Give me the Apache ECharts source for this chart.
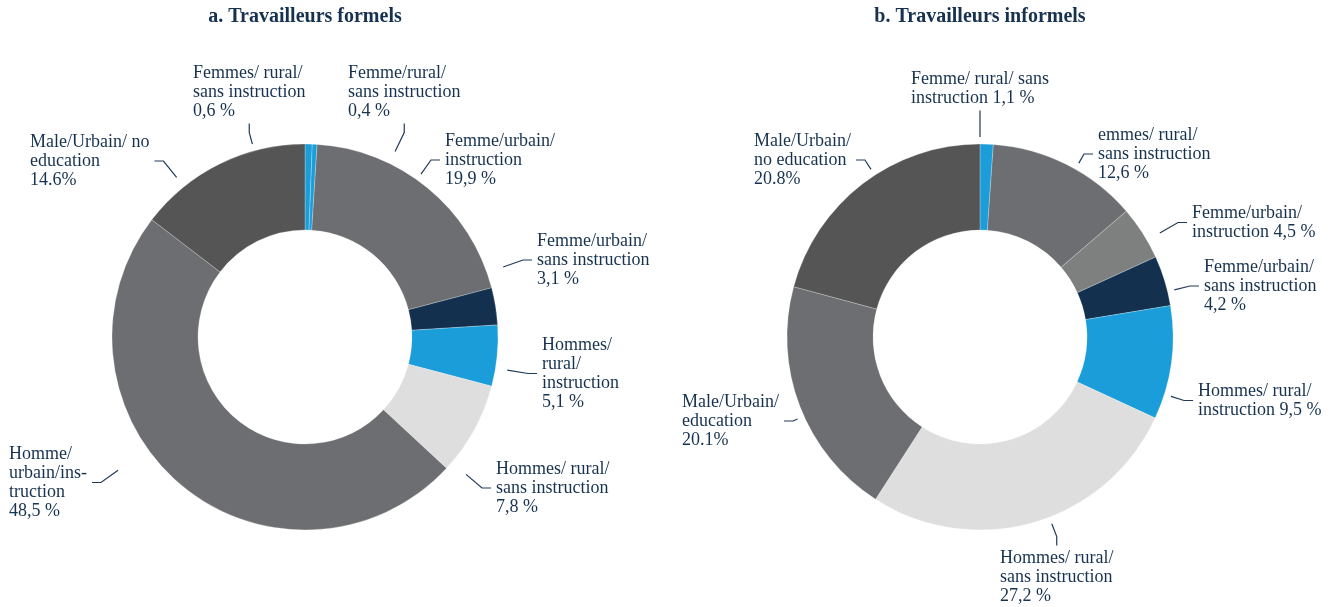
<!DOCTYPE html>
<html>
<head>
<meta charset="utf-8">
<script src="https://cdn.jsdelivr.net/npm/echarts@6/dist/echarts.min.js"></script>
<style>
  html, body { margin: 0; padding: 0; background: #fff; }
  #main { width: 1340px; height: 607px; }
</style>
</head>
<body>
<div id="main"></div>
<script>
// a. Travailleurs formels  ({fr} = valeur avec virgule, {en} = valeur avec point)
var formelLabels = [
    'Femmes/ rural/\nsans instruction\n{fr} %',
    'Femme/rural/\nsans instruction\n{fr} %',
    'Femme/urbain/\ninstruction\n{fr} %',
    'Femme/urbain/\nsans instruction\n{fr} %',
    'Hommes/\nrural/\ninstruction\n{fr} %',
    'Hommes/ rural/\nsans instruction\n{fr} %',
    'Homme/\nurbain/ins-\ntruction\n{fr} %',
    'Male/Urbain/ no\neducation\n{en}%'
];
var formelValues = [0.6, 0.4, 19.9, 3.1, 5.1, 7.8, 48.5, 14.6];

// b. Travailleurs informels
var informelLabels = [
    'Femme/ rural/ sans\ninstruction {fr} %',
    'emmes/ rural/\nsans instruction\n{fr} %',
    'Femme/urbain/\ninstruction {fr} %',
    'Femme/urbain/\nsans instruction\n{fr} %',
    'Hommes/ rural/\ninstruction {fr} %',
    'Hommes/ rural/\nsans instruction\n{fr} %',
    'Male/Urbain/\neducation\n{en}%',
    'Male/Urbain/\nno education\n{en}%'
];
var informelValues = [1.1, 12.6, 4.5, 4.2, 9.5, 27.2, 20.1, 20.8];

var formelColors = ['#1b9dd9', '#1b9dd9', '#6d6e71', '#13304f', '#1b9dd9', '#dedede', '#6d6e71', '#555556'];
var informelColors = ['#1b9dd9', '#6d6e71', '#7e8080', '#13304f', '#1b9dd9', '#dedede', '#6d6e71', '#555556'];

// où commence le texte de chaque étiquette : [gauche, milieu de la 1re ligne]
var formelLabelPos = [[193, 73], [348, 73], [445, 141], [537, 241], [542, 345], [496, 469], [9, 454], [30, 142]];
var informelLabelPos = [[911, 79], [1098, 135], [1192, 213], [1204, 267], [1198, 391], [1000, 558], [682, 402], [754, 141]];

var textColor = '#17324f';
var labelFont = 'Liberation Serif';
var lineH = 19;
var pad = [3, 5];
var rIn = 107, rOut = 193;

function fmt(tpl, v) {
    return tpl.replace('{fr}', v.toFixed(1).replace('.', ','))
              .replace('{en}', v.toFixed(1));
}

// trait de rappel court, détaché de l'anneau, vers le côté le plus proche de l'étiquette
function leader(center, x0, y0, w, h) {
    var L2 = 9, gap = 7, maxLen = 30;
    var cands = [
        [x0, y0 + h / 2, -1, 0], [x0 + w, y0 + h / 2, 1, 0],
        [x0 + w / 2, y0, 0, -1], [x0 + w / 2, y0 + h, 0, 1]
    ];
    var best = null, bestD = Infinity;
    cands.forEach(function (c) {
        var px = c[0] + c[2] * L2, py = c[1] + c[3] * L2;
        var d = Math.hypot(px - center[0], py - center[1]) - rOut;
        if (d < bestD) { bestD = d; best = {a: [c[0], c[1]], m: [px, py]}; }
    });
    var dx = best.m[0] - center[0], dy = best.m[1] - center[1];
    var len = Math.hypot(dx, dy);
    var s = [center[0] + dx / len * (rOut + gap), center[1] + dy / len * (rOut + gap)];
    var seg1 = Math.hypot(best.m[0] - s[0], best.m[1] - s[1]);
    if (len < rOut + gap) { return [best.m, best.a]; }
    var keep = Math.max(maxLen - L2, 8);
    if (seg1 > keep) {
        var t = (seg1 - keep) / seg1;
        s = [s[0] + (best.m[0] - s[0]) * t, s[1] + (best.m[1] - s[1]) * t];
    }
    return [s, best.m, best.a];
}

function donut(values, labels, colors, pos, center) {
    return {
        type: 'pie',
        center: center,
        radius: [rIn, rOut],
        startAngle: 90,
        avoidLabelOverlap: false,
        silent: true,
        emphasis: {disabled: true},
        itemStyle: {borderColor: 'rgba(255,255,255,0.5)', borderWidth: 0.5},
        label: {
            show: true,
            position: 'outside',
            fontFamily: labelFont,
            fontSize: 18,
            lineHeight: lineH,
            color: textColor,
            padding: pad,
            overflow: 'none',
            formatter: function (p) {
                return fmt(labels[p.dataIndex], values[p.dataIndex]);
            }
        },
        labelLine: {
            show: true,
            length: 8,
            length2: 10,
            lineStyle: {color: '#1f3a5a', width: 1.2}
        },
        labelLayout: function (p) {
            var xy = pos[p.dataIndex];
            var x = xy[0] - pad[1];
            var y = xy[1] - lineH / 2 - pad[0];
            return {
                x: x,
                y: y,
                align: 'left',
                verticalAlign: 'top',
                labelLinePoints: leader(center, x, y, p.labelRect.width, p.labelRect.height)
            };
        },
        data: values.map(function (v, i) {
            return {value: v, name: labels[i], itemStyle: {color: colors[i]}};
        })
    };
}

var myChart = echarts.init(document.getElementById('main'));
var option = {
    animation: false,
    backgroundColor: '#fff',
    title: [{
        text: 'a. Travailleurs formels',
        left: 305,
        top: 7,
        padding: 0,
        textAlign: 'center',
        textStyle: {fontFamily: labelFont, fontWeight: 'bold', fontSize: 20, color: textColor}
    }, {
        text: 'b. Travailleurs informels',
        left: 980,
        top: 7,
        padding: 0,
        textAlign: 'center',
        textStyle: {fontFamily: labelFont, fontWeight: 'bold', fontSize: 20, color: textColor}
    }],
    series: [
        donut(formelValues, formelLabels, formelColors, formelLabelPos, [305, 337]),
        donut(informelValues, informelLabels, informelColors, informelLabelPos, [980, 337])
    ]
};
myChart.setOption(option);
window.onresize = myChart.resize;
</script>
</body>
</html>
